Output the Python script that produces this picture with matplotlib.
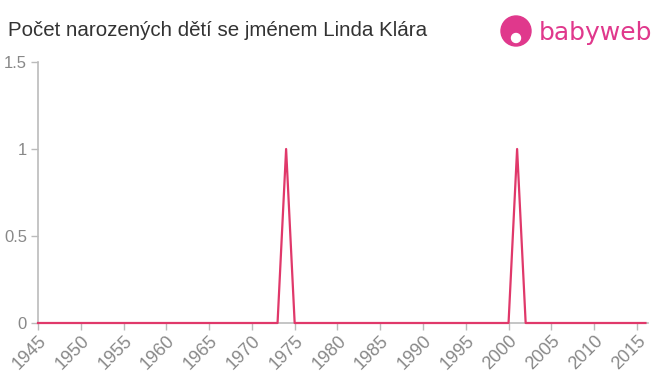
import numpy as np
import matplotlib.pyplot as plt
from matplotlib.patches import Ellipse

plt.rcParams["font.family"] = ["Liberation Sans", "DejaVu Sans"]

# roky a počty narozených
years = list(range(1945, 2017))
counts = [0] * len(years)
peak_years = [1974, 2001]
peak_counts = [1, 1]
for y, c in zip(peak_years, peak_counts):
    counts[years.index(y)] = c

x_ticks = list(range(1945, 2016, 5))
y_ticks = [0, 0.5, 1, 1.5]
y_labels = ["0", "0.5", "1", "1.5"]

fig = plt.figure(figsize=(6.6, 3.75), dpi=100)
ax = fig.add_axes([38 / 660, 52 / 375, 610 / 660, 261 / 375])

ax.plot(years, counts, color="#e0386a", linewidth=1.6, zorder=3, clip_on=False)

ax.set_xlim(1945, 2016.3)
ax.set_ylim(0, 1.5)
ax.set_xticks(x_ticks)
ax.set_xticklabels([str(t) for t in x_ticks], rotation=45, ha="right",
                   va="top", rotation_mode="anchor")
ax.set_yticks(y_ticks)
ax.set_yticklabels(y_labels)

for side in ["top", "right"]:
    ax.spines[side].set_visible(False)
for side in ["left", "bottom"]:
    ax.spines[side].set_color("#bbbbbb")
    ax.spines[side].set_linewidth(1.2)
ax.tick_params(axis="x", colors="#bbbbbb", labelcolor="#888888",
               labelsize=13, length=5, width=1, pad=2)
ax.tick_params(axis="y", colors="#bbbbbb", labelcolor="#888888",
               labelsize=12, length=5, width=1, pad=3)

fig.text(8 / 660, 1 - 31 / 375, "Počet narozených dětí se jménem Linda Klára",
         fontsize=14.8, color="#333333", va="center", ha="left")

# logo babyweb
logo_color = "#e0388c"
fig.patches.append(Ellipse((516 / 660, 1 - 31 / 375), 30 / 660, 30 / 375,
                           transform=fig.transFigure, color=logo_color,
                           zorder=5))
fig.patches.append(Ellipse((516 / 660, 1 - 38 / 375), 9 / 660, 9 / 375,
                           transform=fig.transFigure, color="white",
                           zorder=6))
fig.text(539 / 660, 1 - 33 / 375, "babyweb", fontsize=18, color=logo_color,
         va="center", ha="left", family="DejaVu Sans")

fig.savefig("out.png", dpi=100)
